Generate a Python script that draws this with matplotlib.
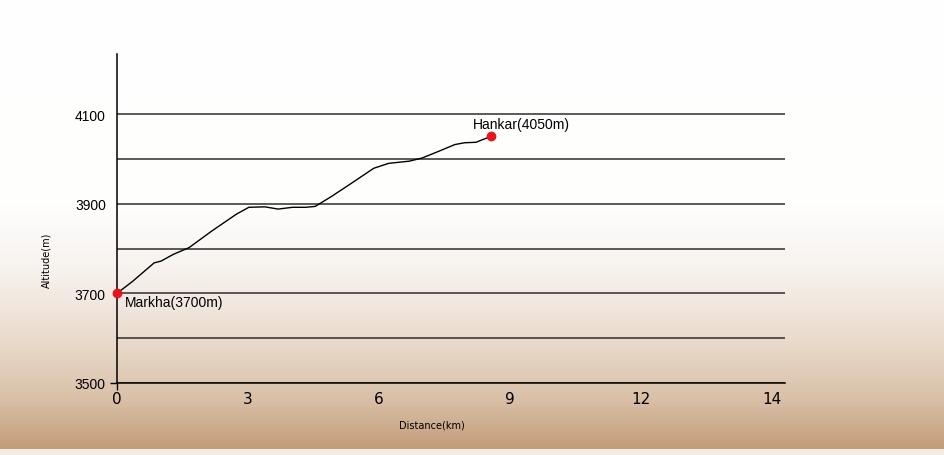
import numpy as np
import matplotlib
matplotlib.use("Agg")
import matplotlib.pyplot as plt
from matplotlib.colors import LinearSegmentedColormap

# elevation profile, Markha -> Hankar
distance_km = [0.0, 0.36, 0.85, 1.01, 1.29, 1.65, 2.17, 2.74, 3.02, 3.39, 3.69,
               4.02, 4.32, 4.54, 4.91, 5.36, 5.88, 6.22, 6.70, 6.99, 7.37, 7.74,
               7.96, 8.22, 8.56]
altitude_m = [3700, 3727, 3768, 3772, 3787, 3802, 3839, 3877, 3892, 3893, 3888,
              3892, 3892, 3894, 3916, 3945, 3979, 3990, 3995, 4002, 4017, 4032,
              4036, 4037, 4050]

stop_names = ["Markha(3700m)", "Hankar(4050m)"]
stop_km = [0.0, 8.56]
stop_alt = [3700, 4050]

x_ticks = [0, 3, 6, 9, 12, 14]
y_ticks = [3500, 3700, 3900, 4100]
y_grid = [3600, 3800, 4000]

# the original axis spaces its tick labels evenly, so the distance scale
# is piecewise linear between the labelled ticks
scale_km = x_ticks + [16]
scale_pos = list(range(len(scale_km)))


def km_to_pos(v):
    return np.interp(v, scale_km, scale_pos)


def pos_to_km(v):
    return np.interp(v, scale_pos, scale_km)


plt.rcParams["font.family"] = ["Liberation Sans", "DejaVu Sans"]

fig = plt.figure(figsize=(9.44, 4.56), dpi=100)

# paper-like background: white fading to tan at the bottom
bg = fig.add_axes([0, 0, 1, 1], zorder=-10)
bg_cmap = LinearSegmentedColormap.from_list(
    "paper",
    [(0.0, "#ffffff"), (0.45, "#fefefd"), (0.58, "#f8f4f0"), (0.68, "#f0e6dd"),
     (0.77, "#e7d7c7"), (0.88, "#d9c0a7"), (0.94, "#cdac8e"), (0.989, "#c39c78"),
     (0.991, "#f2ece6"), (1.0, "#f2ece6")])
grad = np.linspace(0, 1, 456).reshape(-1, 1)
bg.imshow(grad, aspect="auto", cmap=bg_cmap, extent=[0, 1, 0, 1], origin="upper",
          interpolation="nearest")
bg.set_axis_off()

ax = fig.add_axes([117 / 944, 72 / 456, 668 / 944, 329 / 456])
ax.patch.set_visible(False)
ax.set_xscale("function", functions=(km_to_pos, pos_to_km))

ax.plot(distance_km, altitude_m, color="black", lw=1.0, zorder=3)
ax.plot(stop_km, stop_alt, "o", color="#e8141b", ms=6, zorder=4, clip_on=False)

ax.text(stop_km[0] + 0.18, stop_alt[0] - 20, stop_names[0], fontsize=10,
        ha="left", va="center")
ax.text(stop_km[1] - 0.4, stop_alt[1] + 28, stop_names[1], fontsize=10,
        ha="left", va="center")

ax.set_xlim(0, 14.2)
ax.set_ylim(3500, 4234)

ax.set_xticks(x_ticks)
ax.set_xticklabels([str(v) for v in x_ticks], fontsize=11,
                   family=["Liberation Sans Narrow", "DejaVu Sans"])
ax.xaxis.set_minor_locator(plt.NullLocator())
ax.set_yticks(y_ticks)
ax.set_yticklabels([str(v) for v in y_ticks], fontsize=10)
ax.set_yticks(y_grid, minor=True)

ax.tick_params(axis="x", length=5, width=1, pad=1, color="black")
ax.tick_params(axis="y", length=5, width=1, pad=3, color="black")
ax.tick_params(which="minor", length=0)
for t in ax.xaxis.get_major_ticks()[1:]:
    t.tick1line.set_visible(False)
for t in ax.yaxis.get_major_ticks()[1:]:
    t.tick1line.set_visible(False)

ax.grid(axis="y", which="both", color="#2e2e2e", lw=1.1)
ax.set_axisbelow(True)

for side in ["top", "right"]:
    ax.spines[side].set_visible(False)
ax.spines["left"].set_linewidth(1.1)
ax.spines["bottom"].set_linewidth(1.1)

ax.set_xlabel("Distance(km)", fontsize=7,
              family=["Liberation Sans Narrow", "DejaVu Sans"])
ax.set_ylabel("Altitude(m)", fontsize=7,
              family=["Liberation Sans Narrow", "DejaVu Sans"])
ax.xaxis.set_label_coords(0.4716, -0.112)
ax.yaxis.set_label_coords(-0.098, 0.377)

fig.savefig("out.png", dpi=100)
